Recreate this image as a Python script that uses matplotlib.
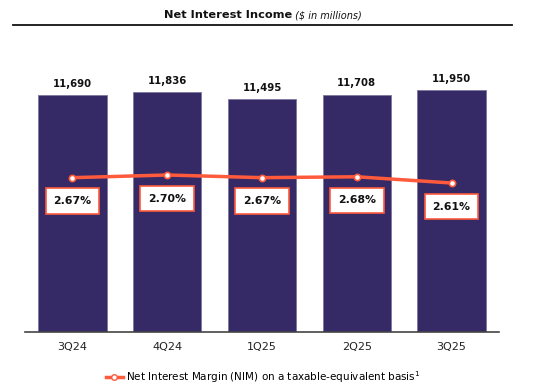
import numpy as np
import matplotlib.pyplot as plt
from matplotlib.lines import Line2D

plt.rcParams['font.family'] = ['DejaVu Sans']

# data
quarters = ['3Q24', '4Q24', '1Q25', '2Q25', '3Q25']
nii = [11690, 11836, 11495, 11708, 11950]
nim = [2.67, 2.70, 2.67, 2.68, 2.61]

bar_color = '#352a66'
line_color = '#ff5a3c'

fig = plt.figure(figsize=(5.42, 3.90), dpi=100)
ax = fig.add_axes([25/542, 1 - 332/390, 474/542, 302/390])

x = np.arange(len(quarters))
ax.bar(x, nii, width=0.72, color=bar_color, edgecolor='#7d77a0', linewidth=0.6, zorder=2)
for xi, v in zip(x, nii):
    ax.text(xi, v + 320, f'{v:,}', ha='center', va='bottom', fontsize=7.3,
            fontweight='bold', color='#111111')

ax.set_xlim(-0.5, len(quarters) - 0.5)
ax.set_ylim(0, 14913)
ax.set_yticks([])
ax.set_xticks(x)
ax.set_xticklabels(quarters, fontsize=8, color='#222222')
ax.tick_params(axis='x', length=0, pad=7)
for s in ['top', 'right', 'left']:
    ax.spines[s].set_visible(False)
ax.spines['bottom'].set_color('#444444')
ax.spines['bottom'].set_linewidth(1.2)

# NIM line on secondary axis
ax2 = ax.twinx()
ax2.set_ylim(0.934, 4.331)
ax2.axis('off')
ax2.plot(x, nim, color=line_color, linewidth=2.5, marker='o', markersize=4.5,
         markerfacecolor='white', markeredgecolor=line_color, markeredgewidth=1.2, zorder=3)
for xi, v in zip(x, nim):
    ax2.annotate(f'{v:.2f}%', xy=(xi, v), xytext=(0, -17), textcoords='offset points',
                 ha='center', va='center', fontsize=7.8, fontweight='bold', color='#111111',
                 bbox=dict(boxstyle='square,pad=0.72', fc='white', ec=line_color, lw=1.2))

# title with rule below
fig.text(292/542, 1 - 15/390, 'Net Interest Income', ha='right', va='center',
         fontsize=8.2, fontweight='bold', color='#111111')
fig.text(292/542, 1 - 15/390, ' ($ in millions)', ha='left', va='center',
         fontsize=7.0, style='italic', color='#111111')
fig.add_artist(Line2D([13/542, 512/542], [1 - 25/390, 1 - 25/390],
                      color='#111111', linewidth=1.3, transform=fig.transFigure))

# legend
handle = Line2D([], [], color=line_color, linewidth=2.5, marker='o', markersize=4,
                markerfacecolor='white', markeredgecolor=line_color)
fig.legend([handle], ['Net Interest Margin (NIM) on a taxable-equivalent basis$^1$'],
           loc='center', bbox_to_anchor=(263/542, 1 - 377/390), frameon=False,
           fontsize=7.5, handlelength=1.6, handletextpad=0.3)

fig.savefig('out.png', dpi=100)
